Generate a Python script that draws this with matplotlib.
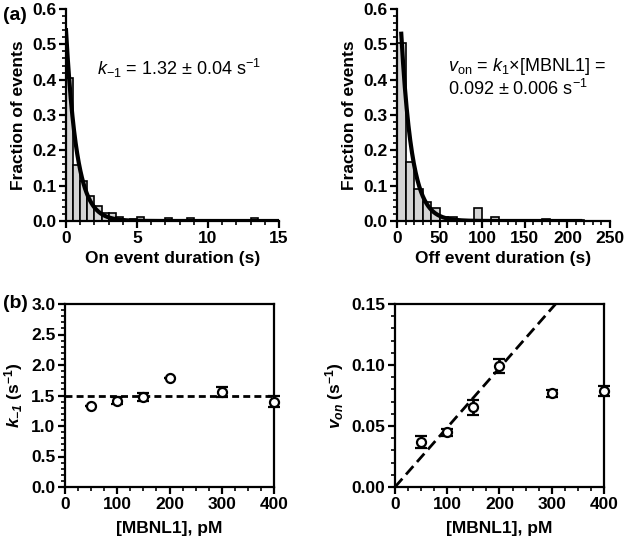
import numpy as np
import matplotlib
matplotlib.use("Agg")
import matplotlib.pyplot as plt
from matplotlib.ticker import MultipleLocator, FormatStrFormatter

plt.rcParams['font.family'] = ['Liberation Sans', 'DejaVu Sans']
plt.rcParams['mathtext.fontset'] = 'custom'
plt.rcParams['mathtext.rm'] = 'Liberation Sans'
plt.rcParams['mathtext.it'] = 'Liberation Sans:italic'
plt.rcParams['mathtext.bf'] = 'Liberation Sans:bold'
plt.rcParams['mathtext.bfit'] = 'Liberation Sans:bold:italic'

# ---- data ----
on_bin_width = 0.5
on_bin_left = [0, 0.5, 1.0, 1.5, 2.0, 2.5, 3.0, 3.5, 4.5, 5.0, 7.0, 8.5, 11.0, 13.0]
on_frac = [0.404, 0.159, 0.112, 0.071, 0.043, 0.022, 0.022, 0.012, 0.006, 0.012,
           0.008, 0.008, 0.003, 0.008]
on_fit_amp, on_fit_rate, on_fit_start, on_fit_end = 0.54, 1.32, 0.0, 15.0

off_bin_width = 10
off_bin_left = [0, 10, 20, 30, 40, 50, 60, 70, 80, 90, 100, 110, 120, 130, 140, 150,
                170, 180, 190, 200, 210]
off_frac = [0.505, 0.168, 0.090, 0.055, 0.038, 0.012, 0.012, 0.004, 0.004, 0.038,
            0.003, 0.012, 0.003, 0.003, 0.003, 0.003, 0.006, 0.002, 0.002, 0.002, 0.002]
off_fit_amp, off_fit_rate, off_fit_start, off_fit_end = 0.53, 0.08, 5.0, 215.0

conc = [50, 100, 150, 200, 300, 400]
k_off = [1.33, 1.415, 1.475, 1.79, 1.56, 1.40]
k_off_err = [0.0, 0.06, 0.06, 0.0, 0.08, 0.09]
k_off_mean = 1.487

v_on = [0.0371, 0.0448, 0.0653, 0.0992, 0.0768, 0.0790]
v_on_err = [0.0048, 0.003, 0.006, 0.006, 0.003, 0.004]
v_on_slope = 0.000488

# ---- figure ----
W, H = 624, 540
fig = plt.figure(figsize=(W / 100, H / 100), dpi=100)

def rect(l, t, r, b):
    return [l / W, 1 - b / H, (r - l) / W, (b - t) / H]

ax1 = fig.add_axes(rect(66, 9, 279, 221))
ax2 = fig.add_axes(rect(397, 9, 610, 221))
ax3 = fig.add_axes(rect(65, 304, 274, 487))
ax4 = fig.add_axes(rect(395, 304, 604, 487))

tick_fs = 12.5
label_fs = 12.5
ann_fs = 13

def style(ax, box=False):
    for s in ['left', 'bottom']:
        ax.spines[s].set_linewidth(1.6)
    if box:
        for s in ['top', 'right']:
            ax.spines[s].set_linewidth(1.6)
    else:
        ax.spines['top'].set_visible(False)
        ax.spines['right'].set_visible(False)
    ax.tick_params(which='major', direction='out', length=5, width=1.6,
                   labelsize=tick_fs, pad=2)
    ax.tick_params(which='minor', direction='out', length=3, width=1.2)
    for lab in ax.get_xticklabels() + ax.get_yticklabels():
        lab.set_fontweight('bold')
    ax.set_axisbelow(False)

# Top-left histogram
ax1.bar(on_bin_left, on_frac, width=on_bin_width, align='edge',
        color='#d4d4d4', edgecolor='black', linewidth=1.2)
xf = np.linspace(on_fit_start, on_fit_end, 400)
ax1.plot(xf, on_fit_amp * np.exp(-on_fit_rate * (xf - on_fit_start)), color='black', lw=3)
ax1.set_xlim(0, 15)
ax1.set_ylim(0, 0.6)
ax1.xaxis.set_major_locator(MultipleLocator(5))
ax1.xaxis.set_minor_locator(MultipleLocator(1))
ax1.yaxis.set_major_locator(MultipleLocator(0.1))
ax1.yaxis.set_minor_locator(MultipleLocator(0.02))
ax1.yaxis.set_major_formatter(FormatStrFormatter('%.1f'))
ax1.set_xlabel('On event duration (s)', fontsize=label_fs, fontweight='bold', labelpad=4)
ax1.set_ylabel('Fraction of events', fontsize=label_fs, fontweight='bold', labelpad=4)
ax1.text(0.145, 0.72, r'$k_{\mathrm{-1}}$ = 1.32 ± 0.04 s$^{\mathrm{-1}}$', transform=ax1.transAxes,
         fontsize=ann_fs, va='center')
style(ax1)

# Top-right histogram
ax2.bar(off_bin_left, off_frac, width=off_bin_width, align='edge',
        color='#d4d4d4', edgecolor='black', linewidth=1.2)
xf2 = np.linspace(off_fit_start, off_fit_end, 400)
ax2.plot(xf2, off_fit_amp * np.exp(-off_fit_rate * (xf2 - off_fit_start)), color='black', lw=3)
ax2.set_xlim(0, 250)
ax2.set_ylim(0, 0.6)
ax2.xaxis.set_major_locator(MultipleLocator(50))
ax2.xaxis.set_minor_locator(MultipleLocator(10))
ax2.yaxis.set_major_locator(MultipleLocator(0.1))
ax2.yaxis.set_minor_locator(MultipleLocator(0.02))
ax2.yaxis.set_major_formatter(FormatStrFormatter('%.1f'))
ax2.set_xlabel('Off event duration (s)', fontsize=label_fs, fontweight='bold', labelpad=4)
ax2.set_ylabel('Fraction of events', fontsize=label_fs, fontweight='bold', labelpad=4)
ax2.text(0.24, 0.73, r'$v_{\mathrm{on}}$ = $k_{\mathrm{1}}$×[MBNL1] =', transform=ax2.transAxes,
         fontsize=ann_fs, va='center')
ax2.text(0.24, 0.625, r'0.092 ± 0.006 s$^{\mathrm{-1}}$', transform=ax2.transAxes,
         fontsize=ann_fs, va='center')
style(ax2)

# Bottom-left k_-1
ax3.axhline(k_off_mean, color='black', lw=2, ls=(0, (2.5, 1.5)), zorder=2)
ax3.errorbar(conc, k_off, yerr=k_off_err, fmt='o', mfc='white', mec='black', mew=1.6,
             ms=6.5, ecolor='black', elinewidth=2, capsize=4, capthick=2, zorder=3,
             clip_on=False)
ax3.set_xlim(0, 400)
ax3.set_ylim(0, 3.0)
ax3.xaxis.set_major_locator(MultipleLocator(100))
ax3.xaxis.set_minor_locator(MultipleLocator(25))
ax3.yaxis.set_major_locator(MultipleLocator(0.5))
ax3.yaxis.set_minor_locator(MultipleLocator(0.1))
ax3.yaxis.set_major_formatter(FormatStrFormatter('%.1f'))
ax3.set_xlabel('[MBNL1], pM', fontsize=label_fs, fontweight='bold', labelpad=7)
ax3.set_ylabel(r'$\mathbfit{k}_{\mathbfit{-1}}$ (s$^{\mathbf{-1}}$)', fontsize=label_fs,
               fontweight='bold', labelpad=4)
style(ax3, box=True)

# Bottom-right v_on
xl = np.array([0, 400])
ax4.plot(xl, v_on_slope * xl, color='black', lw=2, ls=(0, (4, 2)), zorder=2)
ax4.errorbar(conc, v_on, yerr=v_on_err, fmt='o', mfc='white', mec='black', mew=1.6,
             ms=6.5, ecolor='black', elinewidth=2, capsize=4, capthick=2, zorder=3,
             clip_on=False)
ax4.set_xlim(0, 400)
ax4.set_ylim(0, 0.15)
ax4.xaxis.set_major_locator(MultipleLocator(100))
ax4.xaxis.set_minor_locator(MultipleLocator(25))
ax4.yaxis.set_major_locator(MultipleLocator(0.05))
ax4.yaxis.set_minor_locator(MultipleLocator(0.01))
ax4.yaxis.set_major_formatter(FormatStrFormatter('%.2f'))
ax4.set_xlabel('[MBNL1], pM', fontsize=label_fs, fontweight='bold', labelpad=7)
ax4.set_ylabel(r'$\mathbfit{v}_{\mathbfit{on}}$ (s$^{\mathbf{-1}}$)', fontsize=label_fs,
               fontweight='bold', labelpad=4)
style(ax4, box=True)

fig.text(3 / W, 1 - 15 / H, '(a)', fontsize=14, fontweight='bold', va='center')
fig.text(3 / W, 1 - 303 / H, '(b)', fontsize=14, fontweight='bold', va='center')

fig.savefig('out.png', dpi=100)
